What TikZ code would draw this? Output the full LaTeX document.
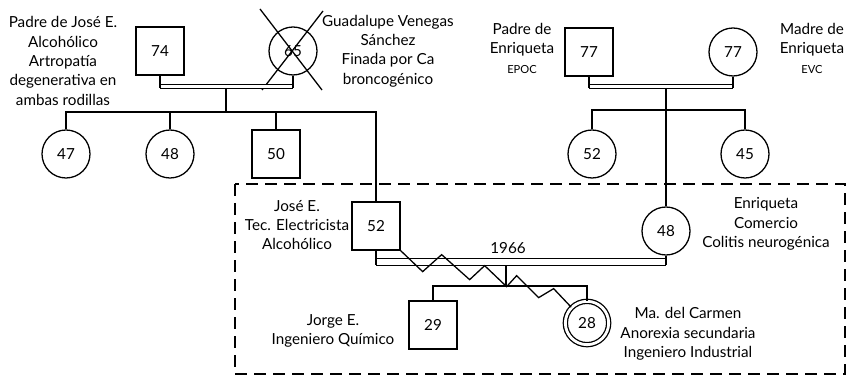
\documentclass[tikz,border=0pt]{standalone}
\usepackage{fontspec}
\setmainfont{Lato}
\newcommand{\txt}{\fontsize{13}{16.6}\selectfont}
\newcommand{\smalltxt}{\fontsize{9.5}{10}\selectfont}
\tikzstyle{male} = [rectangle, draw=black, line width=1.1pt, minimum size=1.44cm, inner sep=0pt, font=\txt]
\tikzstyle{female} = [circle, draw=black, line width=1.1pt, minimum size=1.44cm, inner sep=0pt, font=\txt]
\tikzstyle{note} = [align=center, inner sep=0pt, font=\txt]
\tikzstyle{link} = [line width=1.1pt]
\tikzstyle{union} = [line width=0.8pt, double, double distance=2.3pt]
\tikzstyle{famframe} = [line width=1.4pt, dash pattern=on 0.36cm off 0.21cm]

\begin{document}
\begin{tikzpicture}[x=0.03cm, y=-0.03cm]
\useasboundingbox (0,0) rectangle (847,376);
% grandparents
\node (s74) [male] at (160,51) {74};
\node (c65) [female] at (293,51) {65};
\node (s77) [male] at (589,52) {77};
\node (c77) [female] at (733,52) {77};
% uncles and aunts
\node (c47) [female] at (66,154) {47};
\node (c48) [female] at (170,154) {48};
\node (s50) [male] at (276,154) {50};
\node (c52) [female] at (592,154) {52};
\node (c45) [female] at (745,154) {45};
% parents and children
\node (s52) [male] at (376,226) {52};
\node (e48) [female] at (666,231) {48};
\node (s29) [male] at (433,325) {29};
\node (c28) [female, double, double distance=2.4pt, minimum size=1.3cm] at (587,323) {28};

% notes
\node (padrejose) [note] at (63,61) {Padre de José E.\\Alcohólico\\Artropatía\\degenerativa en\\ambas rodillas};
\node (guadalupe) [note] at (388,51) {Guadalupe Venegas\\Sánchez\\Finada por Ca\\broncogénico};
\node (padreenr) [note] at (522,48) {Padre de\\Enriqueta\\{\smalltxt EPOC}};
\node (madreenr) [note] at (812,48) {Madre de\\Enriqueta\\{\smalltxt EVC}};
\node (jose) [note] at (297,225) {José E.\\Tec. Electricista\\Alcohólico};
\node (enriqueta) [note] at (766,224) {Enriqueta\\Comercio\\Colitis neurogénica};
\node (jorge) [note] at (333,331) {Jorge E.\\Ingeniero Químico};
\node (carmen) [note] at (688,334) {Ma. del Carmen\\Anorexia secundaria\\Ingeniero Industrial};
\node (year) [note] at (508,248) {1966};

% deceased
\draw [link] ([shift={(-33,-42)}]c65.center) -- ([shift={(29,39)}]c65.center);
\draw [link] ([shift={(30,-40)}]c65.center) -- ([shift={(-31,39)}]c65.center);

% junctions
\coordinate (u1) at (226,86.3);
\coordinate (u1b) at (226,88);
\coordinate (sib1) at (226,112);
\coordinate (u2) at (666,86.3);
\coordinate (u2b) at (666,88);
\coordinate (sib2) at (666,110);
\coordinate (u3) at (506,262);
\coordinate (u3b) at (506,265.5);
\coordinate (sib3) at (506,286);

% unions
\draw [union] (s74.south |- u1) -- (c65.south |- u1);
\draw [link] (s74.south) -- (s74.south |- u1b);
\draw [link] (c65.south) -- (c65.south |- u1b);
\draw [union] (s77.south |- u2) -- (c77.south |- u2);
\draw [link] (s77.south) -- (s77.south |- u2b);
\draw [link] (c77.south) -- (c77.south |- u2b);
\draw [union, double distance=4.8pt] (s52.south |- u3) -- (e48.south |- u3);
\draw [link] (s52.south) -- (s52.south |- u3b);
\draw [link] (e48.south) -- (e48.south |- u3b);

% descent
\draw [link] (u1b) -- (sib1);
\draw [link] (c47.north) |- (sib1) -| (s52.north);
\draw [link] (c48.north) -- (c48.north |- sib1);
\draw [link] (s50.north) -- (s50.north |- sib1);
\draw [link] (u2b) -- (e48.north);
\draw [link] (c52.north) |- (sib2) -| (c45.north);
\draw [link] (u3b) -- (sib3);
\draw [link] (s29.north) |- (sib3) -| (c28.north);

% conflict
\draw [link] (s52.south east) -- ++(22,21) -- ++(19,-17) -- ++(28,25) -- ++(15,-14)
  -- ++(22,21) -- ++(10,-11) -- ++(22,22) -- ++(15,-9) -- (c28.north west);

% nuclear family
\draw [famframe] (235,184) rectangle (845,374);
\end{tikzpicture}
\end{document}
